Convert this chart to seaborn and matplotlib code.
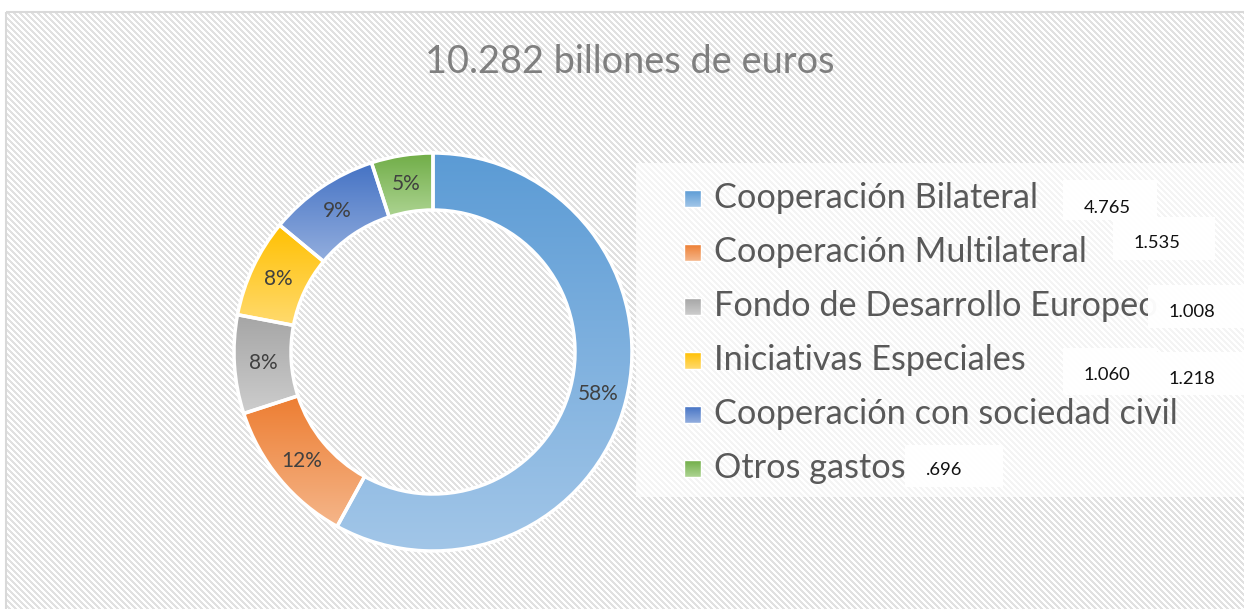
import numpy as np
import matplotlib
matplotlib.use("Agg")
import matplotlib.pyplot as plt
import seaborn as sns
from matplotlib.patches import Rectangle

# ---------------- data ----------------
categories = ["Cooperación Bilateral", "Cooperación Multilateral",
              "Fondo de Desarrollo Europeo", "Iniciativas Especiales",
              "Cooperación con sociedad civil", "Otros gastos"]
shares = [58, 12, 8, 8, 9, 5]
amount_labels = ["4.765", "1.535", "1.008", "1.060", "1.218", ".696"]
title = "10.282 billones de euros"

# ---------------- style ----------------
sns.set_theme(style="white")
plt.rcParams["font.family"] = ["Lato", "DejaVu Sans"]

top_colors = sns.color_palette(["#5B9BD5", "#ED7D31", "#A5A5A5", "#FFC000", "#4472C4", "#70AD47"])
bottom_colors = sns.color_palette(["#A2C6E8", "#F5B68A", "#CDCDCD", "#FFDA6E", "#93AEDE", "#ADD492"])

W, H = 1244, 609
fig = plt.figure(figsize=(W / 100, H / 100), dpi=100)
fig.patch.set_facecolor("white")
renderer = fig.canvas.get_renderer()

def fit(t, target):
    w = t.get_window_extent(renderer).width
    t.set_fontsize(t.get_fontsize() * target / w)

# background diagonal hatch
rows, cols = np.mgrid[0:H, 0:W]
bg = np.ones((H, W, 3))
stripe = ((cols - rows) % 6) < 3
bg[stripe] = 0.885
bg[:12, :] = 1.0
bg[:, :6] = 1.0
fig.figimage(bg, 0, 0, origin="upper", zorder=0)

# overlay axes in pixel coordinates
ov = fig.add_axes([0, 0, 1, 1], zorder=2)
ov.set_xlim(0, W)
ov.set_ylim(H, 0)
ov.axis("off")
ov.patch.set_visible(False)
ov.plot([6, 6], [12, H], color="#D9D9D9", lw=1.5, solid_capstyle="butt")
ov.plot([6, W], [12, 12], color="#D9D9D9", lw=1.5, solid_capstyle="butt")

# ---------------- donut ----------------
cx, cy, R, r_in = 433, 352, 199, 142
ax = fig.add_axes([(cx - 200) / W, (H - cy - 200) / H, 400 / W, 400 / H], zorder=1)
ax.patch.set_visible(False)
wedges, texts, autotexts = ax.pie(
    shares, startangle=90, counterclock=False, radius=R / 200,
    autopct="%.0f%%", pctdistance=((R + r_in) / 2) / R,
    wedgeprops=dict(width=(R - r_in) / 200, edgecolor="white", linewidth=2.5, facecolor="none"),
    textprops=dict(color="#404040"))
grad = np.linspace(0, 1, 256)[:, None, None]
for w, c0, c1 in zip(wedges, top_colors, bottom_colors):
    bb = w.get_path().get_extents()
    img = (1 - grad) * np.array(c0)[None, None, :] + grad * np.array(c1)[None, None, :]
    im = ax.imshow(img, extent=[bb.x0, bb.x1, bb.y0, bb.y1], origin="upper",
                   aspect="auto", zorder=0.5, interpolation="bilinear")
    im.set_clip_path(w)
ax.set_xlim(-1, 1)
ax.set_ylim(-1, 1)
ax.axis("off")
for t in autotexts:
    t.set_fontsize(16)
fit(autotexts[0], 41)
for t in autotexts[1:]:
    t.set_fontsize(autotexts[0].get_fontsize())

# ---------------- title ----------------
tt = ov.text(630, 73, title, ha="center", va="baseline", color="#7F7F7F", fontsize=24)
fit(tt, 410)

# ---------------- legend ----------------
ov.add_patch(Rectangle((636, 163), W - 636, 334, facecolor="white", alpha=0.65,
                       edgecolor="none", zorder=1))
leg_texts = []
for i, (lab, c0, c1) in enumerate(zip(categories, top_colors, bottom_colors)):
    yc = 198.5 + 54 * i
    img = (1 - grad) * np.array(c0)[None, None, :] + grad * np.array(c1)[None, None, :]
    ov.imshow(img, extent=[684, 701, yc + 8.5, yc - 8.5], origin="upper",
              aspect="auto", zorder=2, interpolation="bilinear")
    ov.add_patch(Rectangle((684, yc - 8.5), 17, 17, facecolor="none",
                           edgecolor="white", lw=1, zorder=2.1))
    t = ov.text(714, yc + 9.5, lab, ha="left", va="baseline", color="#595959",
                fontsize=22, zorder=3)
    leg_texts.append(t)
fit(leg_texts[4], 462)
for t in leg_texts:
    t.set_fontsize(leg_texts[4].get_fontsize())
ov.set_xlim(0, W)
ov.set_ylim(H, 0)

# ---------------- amount labels ----------------
box_rects = [(1063, 180, 1157, 220), (1113, 217, 1215, 260), (1148, 285, 1244, 328),
             (1063, 348, 1157, 395), (1157, 352, 1244, 395), (905, 445, 1003, 487)]
text_pos = [(1107, 213), (1157, 248), (1192, 317), (1107, 380), (1192, 384), (944, 475)]
num_texts = []
for lab, (x0, y0, x1, y1), (tx, ty) in zip(amount_labels, box_rects, text_pos):
    ov.add_patch(Rectangle((x0, y0), x1 - x0, y1 - y0, facecolor="white",
                           edgecolor="none", alpha=0.97, zorder=4))
    t = ov.text(tx, ty, lab, ha="center", va="baseline", color="#111111",
                fontsize=13, zorder=5)
    num_texts.append(t)
fit(num_texts[0], 47)
for t in num_texts:
    t.set_fontsize(num_texts[0].get_fontsize())

fig.savefig("out.png", dpi=100)
